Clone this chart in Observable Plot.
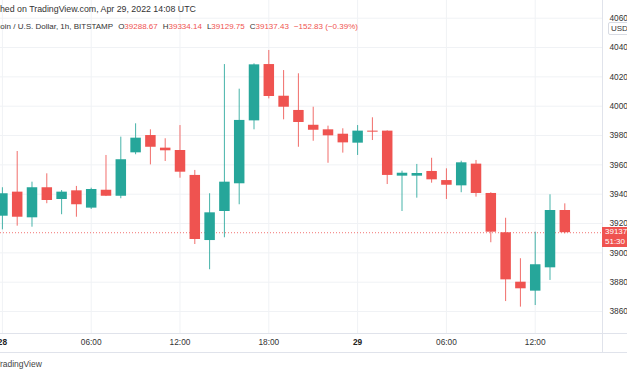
<!DOCTYPE html>
<html><head><meta charset="utf-8">
<script src="https://cdn.jsdelivr.net/npm/d3@7"></script>
<script src="https://cdn.jsdelivr.net/npm/@observablehq/plot@0.6"></script>
<style>
html,body{margin:0;padding:0;overflow:hidden;background:#fff;}
#wrap{position:relative;width:627px;height:376px;overflow:hidden;font-family:"Liberation Sans",Arial,sans-serif;color:#333;}
#wrap svg{position:absolute;left:0;top:0;display:block;}
.ov{position:absolute;white-space:nowrap;font-size:8px;line-height:10px;}
.hl{position:absolute;background:#e0e3eb;}
.val{color:#ef5350;}
.gap{margin-left:5px;}
</style></head><body><div id="wrap"></div>
<script>
// ---- data (BTC/USD 1h, Bitstamp) ----
const times = [
 "2022-04-28T00:00Z","2022-04-28T01:00Z","2022-04-28T02:00Z","2022-04-28T03:00Z","2022-04-28T04:00Z",
 "2022-04-28T05:00Z","2022-04-28T06:00Z","2022-04-28T07:00Z","2022-04-28T08:00Z","2022-04-28T09:00Z",
 "2022-04-28T10:00Z","2022-04-28T11:00Z","2022-04-28T12:00Z","2022-04-28T13:00Z","2022-04-28T14:00Z",
 "2022-04-28T15:00Z","2022-04-28T16:00Z","2022-04-28T17:00Z","2022-04-28T18:00Z","2022-04-28T19:00Z",
 "2022-04-28T20:00Z","2022-04-28T21:00Z","2022-04-28T22:00Z","2022-04-28T23:00Z","2022-04-29T00:00Z",
 "2022-04-29T01:00Z","2022-04-29T02:00Z","2022-04-29T03:00Z","2022-04-29T04:00Z","2022-04-29T05:00Z",
 "2022-04-29T06:00Z","2022-04-29T07:00Z","2022-04-29T08:00Z","2022-04-29T09:00Z","2022-04-29T10:00Z",
 "2022-04-29T11:00Z","2022-04-29T12:00Z","2022-04-29T13:00Z","2022-04-29T14:00Z"];
const open  = [39250,39414,39239,39444,39364,39423,39305,39427,39386,39682,39800,39714,39698,39528,39084,39282,39471,39900,40284,40068,39971,39870,39839,39809,39748,39830,39830,39523,39523,39555,39493,39457,39605,39405,39137,38800,38739,38898,39288.67];
const high  = [39444,39691,39482,39539,39425,39453,39441,39664,39789,39880,39839,39778,39868,39562,39403,40284,40116,40289,40380,40243,40221,39993,39864,39846,39868,39921,39832,39557,39603,39645,39573,39625,39630,39410,39236,38960,39141,39396,39334.14];
const low   = [39157,39182,39175,39335,39260,39243,39296,39384,39369,39669,39600,39623,39509,39057,38885,39103,39328,39839,40050,39907,39720,39761,39611,39680,39664,39766,39466,39282,39373,39475,39364,39410,39380,39069,38668,38630,38641,38812,39129.75];
const close = [39403,39243,39444,39357,39414,39328,39432,39386,39635,39782,39720,39696,39550,39091,39273,39482,39903,40282,40066,39993,39889,39836,39798,39750,39830,39823,39528,39543,39541,39498,39461,39614,39405,39141,38816,38755,38919,39289,39137.43];
const yTicks = [38600,38800,39000,39200,39400,39600,39800,40000,40200,40400,40600];
const dayTicks = ["2022-04-28T00:00Z","2022-04-29T00:00Z"];
const hourTicks = ["2022-04-28T06:00Z","2022-04-28T12:00Z","2022-04-28T18:00Z","2022-04-29T06:00Z","2022-04-29T12:00Z"];
const headerTitle = "Bitcoin / U.S. Dollar, 1h, BITSTAMP";
const published = "Published on TradingView.com, Apr 29, 2022 14:08 UTC";
const change = "−152.83 (−0.39%)";
const countdown = "51:30";

const UP = "#26a69a", DOWN = "#ef5350", GRID = "#f0f2f5";
const data = times.map((t,i)=>({date:new Date(t), open:open[i], high:high[i], low:low[i], close:close[i]}));
const col = d => d.close >= d.open ? UP : DOWN;
const lastClose = close[close.length-1];
const H = 3600e3, t0 = Date.UTC(2022,3,28);

const chart = Plot.plot({
  width:627, height:353, marginLeft:0, marginRight:24, marginTop:0, marginBottom:20,
  style:{fontFamily:'"Liberation Sans",Arial,sans-serif', fontSize:"8.3px", color:"#333", background:"transparent", overflow:"visible"},
  x:{type:"utc", domain:[new Date(t0 - 0.128*H), new Date(t0 + 40.614*H)]},
  y:{domain:[38450.2, 40720.7]},
  marks:[
    Plot.gridY(yTicks, {stroke:GRID, strokeOpacity:1}),
    Plot.gridX([...dayTicks, ...hourTicks].map(d=>new Date(d)), {stroke:GRID, strokeOpacity:1}),
    Plot.ruleY([lastClose], {stroke:DOWN, strokeDasharray:"1,2", strokeOpacity:0.8}),
    Plot.ruleX(data, {x:"date", y1:"low", y2:"high", stroke:col, strokeWidth:1, strokeOpacity:0.85}),
    Plot.ruleX(data, {x:"date", y1:"open", y2:"close", stroke:col, strokeWidth:10.5}),
    Plot.axisY(yTicks, {anchor:"right", tickSize:0, tickPadding:6, tickFormat:d3.format("d"), fill:"#333"}),
    Plot.axisX(hourTicks.map(d=>new Date(d)), {anchor:"bottom", tickSize:0, tickPadding:6, tickFormat:d3.utcFormat("%H:%M"), fill:"#333"}),
    Plot.axisX(dayTicks.map(d=>new Date(d)), {anchor:"bottom", tickSize:0, tickPadding:6, tickFormat:d=>String(d.getUTCDate()), fill:"#222", fontWeight:"bold"})
  ]
});
const wrap = document.getElementById("wrap");
wrap.appendChild(chart);
const ys = chart.scale("y");
const py = ys.apply(lastClose);

function div(cls, css, html){const e=document.createElement("div");e.className=cls;e.style.cssText=css;if(html!=null)e.innerHTML=html;wrap.appendChild(e);return e;}
// chrome lines
div("hl","left:0;top:333px;width:627px;height:1px;");
div("hl","left:0;top:352px;width:627px;height:1px;");
div("hl","left:602px;top:0;width:1px;height:353px;");
// header
div("ov","left:-24px;top:4px;font-size:8.8px;", published);
div("ov","left:-13px;top:22px;",
  `${headerTitle}<span class="gap">O</span><span class="val">${open[open.length-1].toFixed(2)}</span>`+
  `<span class="gap">H</span><span class="val">${high[high.length-1].toFixed(2)}</span>`+
  `<span class="gap">L</span><span class="val">${low[low.length-1].toFixed(2)}</span>`+
  `<span class="gap">C</span><span class="val">${close[close.length-1].toFixed(2)}</span>`+
  `<span class="gap val">${change}</span>`);
// USD box
div("ov","left:608px;top:22px;height:11px;padding:0 2px;background:#fff;border:1px solid #d8dbe3;border-radius:2px;line-height:11px;","USD");
// price label
const pl = div("ov",`left:602px;top:${py-5}px;width:30px;height:20px;background:#ef5350;color:#fff;padding-left:3px;box-sizing:border-box;font-size:8px;`);
const l1 = div("ov","left:3px;top:0px;line-height:9px;color:#fff;", lastClose.toFixed(2));
const l2 = div("ov","left:3px;top:9.5px;line-height:9px;color:#fff;", countdown);
pl.appendChild(l1); pl.appendChild(l2);
// footer
div("ov","left:-5px;top:359px;color:#444;font-size:8.5px;","TradingView");
</script></body></html>
